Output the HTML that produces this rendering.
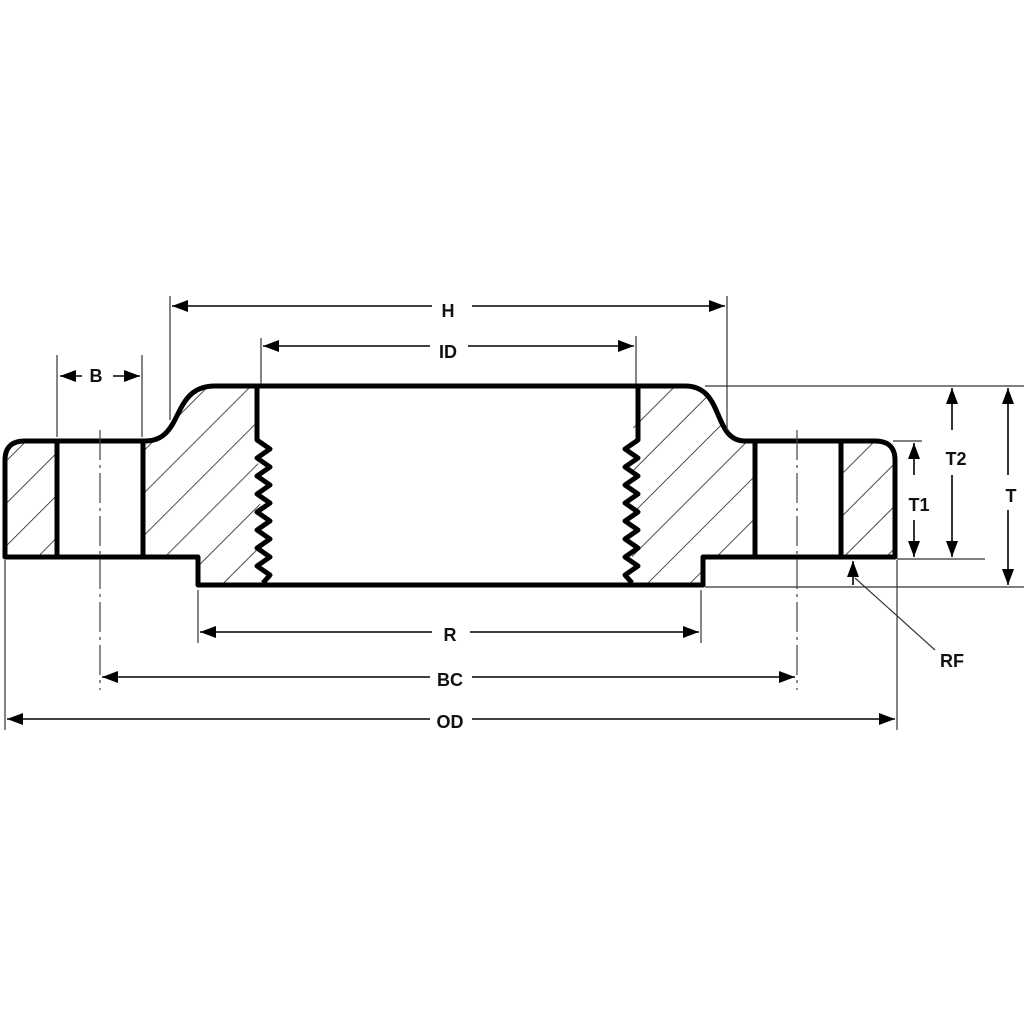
<!DOCTYPE html>
<html><head><style>
html,body{margin:0;padding:0;background:#fff;}
svg{display:block}
text{font-family:"Liberation Sans",sans-serif;font-weight:bold;font-size:18px;fill:#111;}
</style></head><body>
<svg width="1024" height="1024" viewBox="0 0 1024 1024" xmlns="http://www.w3.org/2000/svg">
<defs>
<pattern id="h" patternUnits="userSpaceOnUse" width="30" height="30" patternTransform="rotate(45)">
<line x1="0" y1="0" x2="0" y2="30" stroke="#222" stroke-width="1.6"/>
</pattern>
<marker id="a" markerWidth="16" markerHeight="12" refX="16" refY="6" orient="auto" markerUnits="userSpaceOnUse">
<path d="M0,0 L16,6 L0,12 Z" fill="#000"/>
</marker>
<marker id="b" markerWidth="16" markerHeight="12" refX="0" refY="6" orient="auto" markerUnits="userSpaceOnUse">
<path d="M16,0 L0,6 L16,12 Z" fill="#000"/>
</marker>
</defs>
<path d="M8,445 Q8,441 20,441 L57,441 L57,557 L5,557 Z" fill="url(#h)"/>
<path d="M143,441 L150,441 C185,441 170,386 215,386 L257,386 L257,440 L264,582 L198,585 L198,557 L143,557 Z" fill="url(#h)"/>
<path d="M638,386 L690,386 C725,386 715,441 745,441 L755,441 L755,557 L703,557 L703,585 L632,585 L632,440 Z" fill="url(#h)"/>
<path d="M841,441 L875,441 Q895,441 895,460 L895,557 L841,557 Z" fill="url(#h)"/>
<rect x="57" y="441" width="86" height="116" fill="#fff"/>
<rect x="755" y="441" width="86" height="116" fill="#fff"/>
<g fill="none" stroke="#000" stroke-width="5" stroke-linejoin="round">
<path d="M5,557 L5,460 Q5,441 25,441 L145,441 C185,441 170,386 215,386 L685,386 C725,386 712,441 745,441 L875,441 Q895,441 895,460 L895,557 L703,557 L703,585 L198,585 L198,557 Z"/>
<line x1="57" y1="441" x2="57" y2="557"/>
<line x1="143" y1="441" x2="143" y2="557"/>
<line x1="755" y1="441" x2="755" y2="557"/>
<line x1="841" y1="441" x2="841" y2="557"/>
<path d="M257,386 L257,440 L270,449 L257,458 L270,467 L257,476 L270,485 L257,494 L270,503 L257,512 L270,521 L257,530 L270,539 L257,548 L270,557 L257,566 L270,575 L263,583"/>
<path d="M638,386 L638,440 L625,449 L638,458 L625,467 L638,476 L625,485 L638,494 L625,503 L638,512 L625,521 L638,530 L625,539 L638,548 L625,557 L638,566 L625,575 L632,583"/>
</g>
<g stroke="#444" stroke-width="1.2" stroke-dasharray="30,5,3,5">
<line x1="100" y1="430" x2="100" y2="690"/>
<line x1="797" y1="430" x2="797" y2="690"/>
</g>
<g stroke="#333" stroke-width="1.2">
<line x1="170" y1="296" x2="170" y2="420"/>
<line x1="727" y1="296" x2="727" y2="430"/>
<line x1="261" y1="338" x2="261" y2="384"/>
<line x1="636" y1="336" x2="636" y2="384"/>
<line x1="57" y1="355" x2="57" y2="437"/>
<line x1="142" y1="355" x2="142" y2="437"/>
<line x1="198" y1="590" x2="198" y2="643"/>
<line x1="701" y1="590" x2="701" y2="643"/>
<line x1="5" y1="560" x2="5" y2="730"/>
<line x1="897" y1="560" x2="897" y2="730"/>
<line x1="705" y1="386" x2="1024" y2="386"/>
<line x1="893" y1="441" x2="922" y2="441"/>
<line x1="897" y1="559" x2="985" y2="559"/>
<line x1="705" y1="587" x2="1024" y2="587"/>
<line x1="855" y1="578" x2="935" y2="650"/>
</g>
<g stroke="#000" stroke-width="1.6">
<line x1="172" y1="306" x2="432" y2="306" marker-start="url(#b)"/>
<line x1="472" y1="306" x2="725" y2="306" marker-end="url(#a)"/>
<line x1="263" y1="346" x2="430" y2="346" marker-start="url(#b)"/>
<line x1="468" y1="346" x2="634" y2="346" marker-end="url(#a)"/>
<line x1="60" y1="376" x2="82" y2="376" marker-start="url(#b)"/>
<line x1="113" y1="376" x2="140" y2="376" marker-end="url(#a)"/>
<line x1="200" y1="632" x2="432" y2="632" marker-start="url(#b)"/>
<line x1="470" y1="632" x2="699" y2="632" marker-end="url(#a)"/>
<line x1="102" y1="677" x2="430" y2="677" marker-start="url(#b)"/>
<line x1="472" y1="677" x2="795" y2="677" marker-end="url(#a)"/>
<line x1="7" y1="719" x2="430" y2="719" marker-start="url(#b)"/>
<line x1="472" y1="719" x2="895" y2="719" marker-end="url(#a)"/>
<line x1="952" y1="430" x2="952" y2="388" marker-end="url(#a)"/>
<line x1="952" y1="475" x2="952" y2="557" marker-end="url(#a)"/>
<line x1="914" y1="475" x2="914" y2="443" marker-end="url(#a)"/>
<line x1="914" y1="520" x2="914" y2="557" marker-end="url(#a)"/>
<line x1="1008" y1="475" x2="1008" y2="388" marker-end="url(#a)"/>
<line x1="1008" y1="510" x2="1008" y2="585" marker-end="url(#a)"/>
<line x1="853" y1="585" x2="853" y2="561" marker-end="url(#a)"/>
</g>
<text x="448" y="317" text-anchor="middle">H</text>
<text x="448" y="358" text-anchor="middle">ID</text>
<text x="96" y="382" text-anchor="middle">B</text>
<text x="450" y="641" text-anchor="middle">R</text>
<text x="450" y="686" text-anchor="middle">BC</text>
<text x="450" y="728" text-anchor="middle">OD</text>
<text x="956" y="465" text-anchor="middle">T2</text>
<text x="919" y="511" text-anchor="middle">T1</text>
<text x="1011" y="502" text-anchor="middle">T</text>
<text x="952" y="667" text-anchor="middle">RF</text>
</svg>
</body></html>
